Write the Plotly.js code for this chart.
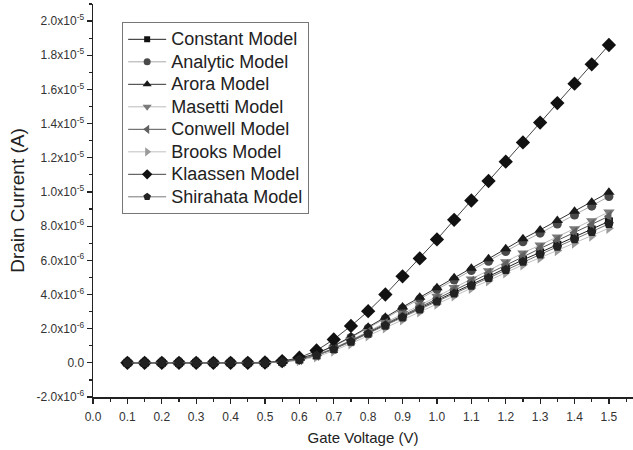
<!DOCTYPE html>
<html>
<head>
<meta charset="utf-8">
<script src="https://cdn.plot.ly/plotly-3.0.1.min.js"></script>
<style>html,body{margin:0;padding:0;background:#fff;}#chart{width:633px;height:450px;}</style>
</head>
<body>
<div id="chart"></div>
<script>
// Gate voltage (V)
const gateVoltage = [0.1,0.15,0.2,0.25,0.3,0.35,0.4,0.45,0.5,0.55,0.6,0.65,0.7,0.75,0.8,0.85,0.9,0.95,1.0,1.05,1.1,1.15,1.2,1.25,1.3,1.35,1.4,1.45,1.5];

// Drain current in units of 1e-6 A
const constantModel  = [0,0,0,0,0,0,0,0,0,0.06,0.20,0.44,0.81,1.26,1.73,2.22,2.71,3.19,3.65,4.13,4.60,5.05,5.54,6.03,6.46,6.91,7.36,7.80,8.28];
const analyticModel  = [0,0,0,0,0,0,0,0,0,0.07,0.24,0.53,0.97,1.48,2.03,2.60,3.18,3.74,4.29,4.85,5.40,5.94,6.51,7.08,7.59,8.12,8.65,9.17,9.73];
const aroraModel     = [0,0,0,0,0,0,0,0,0,0.08,0.25,0.55,1.00,1.52,2.08,2.67,3.26,3.84,4.40,4.98,5.54,6.09,6.68,7.26,7.78,8.33,8.87,9.40,9.98];
const masettiModel   = [0,0,0,0,0,0,0,0,0,0.06,0.20,0.46,0.86,1.33,1.84,2.36,2.89,3.40,3.89,4.41,4.90,5.39,5.91,6.43,6.89,7.37,7.85,8.32,8.83];
const conwellModel   = [0,0,0,0,0,0,0,0,0,0.06,0.20,0.45,0.84,1.30,1.79,2.30,2.80,3.30,3.78,4.28,4.76,5.24,5.74,6.24,6.69,7.16,7.63,8.08,8.58];
const brooksModel    = [0,0,0,0,0,0,0,0,0,0.03,0.14,0.36,0.70,1.12,1.58,2.05,2.52,2.99,3.45,3.92,4.37,4.81,5.28,5.74,6.15,6.58,7.01,7.43,7.88];
const klaassenModel  = [0,0,0,0,0,0,0,0,0.02,0.10,0.30,0.72,1.37,2.16,3.02,4.00,5.06,6.11,7.22,8.37,9.50,10.64,11.77,12.90,14.06,15.20,16.34,17.47,18.60];
const shirahataModel = [0,0,0,0,0,0,0,0,0,0.06,0.19,0.43,0.80,1.24,1.70,2.18,2.66,3.13,3.59,4.06,4.52,4.96,5.44,5.92,6.34,6.79,7.23,7.66,8.13];

const seriesNames = ["Constant Model","Analytic Model","Arora Model","Masetti Model","Conwell Model","Brooks Model","Klaassen Model","Shirahata Model"];
const seriesData = [constantModel, analyticModel, aroraModel, masettiModel, conwellModel, brooksModel, klaassenModel, shirahataModel];

const yTickVals = [-2e-6,0,2e-6,4e-6,6e-6,8e-6,1e-5,1.2e-5,1.4e-5,1.6e-5,1.8e-5,2e-5];
const yTickText = ["-2.0x10<sup>-6</sup>","0.0","2.0x10<sup>-6</sup>","4.0x10<sup>-6</sup>","6.0x10<sup>-6</sup>","8.0x10<sup>-6</sup>","1.0x10<sup>-5</sup>","1.2x10<sup>-5</sup>","1.4x10<sup>-5</sup>","1.6x10<sup>-5</sup>","1.8x10<sup>-5</sup>","2.0x10<sup>-5</sup>"];
const xTickVals = [0,0.1,0.2,0.3,0.4,0.5,0.6,0.7,0.8,0.9,1.0,1.1,1.2,1.3,1.4,1.5];
const xTickText = ["0.0","0.1","0.2","0.3","0.4","0.5","0.6","0.7","0.8","0.9","1.0","1.1","1.2","1.3","1.4","1.5"];

const styles = [
  {sym:"square", mc:"#111111", lc:"#222222", size:8, ls:6},
  {sym:"circle", mc:"#4a4a4a", lc:"#aaaaaa", size:9, ls:7},
  {sym:"triangle-up", mc:"#1a1a1a", lc:"#333333", size:10, ls:8},
  {sym:"triangle-down", mc:"#7a7a7a", lc:"#bbbbbb", size:10, ls:8},
  {sym:"triangle-left", mc:"#606060", lc:"#555555", size:10, ls:8},
  {sym:"triangle-right", mc:"#9a9a9a", lc:"#c0c0c0", size:10, ls:8},
  {sym:"diamond", mc:"#111111", lc:"#444444", size:11, ls:8},
  {sym:"pentagon", mc:"#222222", lc:"#777777", size:10, ls:8}
];

const dataTraces = seriesNames.map((name,i)=>({
  x: gateVoltage,
  y: seriesData[i].map(v=>v*1e-6),
  name: name,
  type: "scatter",
  mode: "lines+markers",
  showlegend: false,
  line: {color: styles[i].lc, width: 1},
  marker: {symbol: styles[i].sym, color: styles[i].mc, size: styles[i].size, line:{width:0}}
}));

// legend-only entries (smaller symbols as in the reference legend)
const legendTraces = seriesNames.map((name,i)=>({
  x: [null], y: [null],
  name: "<span style='font-size:18px'>" + name + "</span>",
  type: "scatter",
  mode: "lines+markers",
  showlegend: true,
  hoverinfo: "skip",
  line: {color: styles[i].lc, width: 1},
  marker: {symbol: styles[i].sym, color: styles[i].mc, size: styles[i].ls, line:{width:0}}
}));

const FONT = "Arial, 'Liberation Sans', sans-serif";

const layout = {
  width: 633, height: 450,
  margin: {l: 93, r: 0, t: 4, b: 53},
  paper_bgcolor: "#fff", plot_bgcolor: "#fff",
  font: {family: FONT, color: "#222"},
  showlegend: true,
  legend: {
    x: 0.054, y: 0.954, xanchor: "left", yanchor: "top",
    bordercolor: "#777", borderwidth: 1, bgcolor: "#fff",
    font: {family: FONT, size: 15, color: "#222"},
    itemwidth: 38, tracegroupgap: 0, traceorder: "normal"
  },
  xaxis: {
    range: [0, 1.57],
    tickvals: xTickVals, ticktext: xTickText,
    ticks: "outside", ticklen: 5, tickwidth: 1.2, tickcolor: "#222",
    minor: {dtick: 0.05, tick0: 0, ticks: "outside", ticklen: 3, tickwidth: 1.2, tickcolor: "#222", showgrid:false},
    showline: true, linecolor: "#222", linewidth: 1.5,
    showgrid: false, zeroline: false,
    ticklabelstandoff: 3,
    tickfont: {family: FONT, size: 12, color: "#333"},
    title: {text: "Gate Voltage (V)", font: {family: FONT, size: 15, color: "#222"}, standoff: 9}
  },
  yaxis: {
    range: [-2e-6, 2.1e-5],
    tickvals: yTickVals, ticktext: yTickText,
    ticks: "outside", ticklen: 5, tickwidth: 1.2, tickcolor: "#222",
    minor: {dtick: 1e-6, tick0: 0, ticks: "outside", ticklen: 3, tickwidth: 1.2, tickcolor: "#222", showgrid:false},
    showline: true, linecolor: "#222", linewidth: 1.5,
    showgrid: false, zeroline: false,
    tickfont: {family: FONT, size: 12, color: "#333"},
    title: {text: "Drain Current (A)", font: {family: FONT, size: 19, color: "#222"}, standoff: 7}
  }
};

Plotly.newPlot("chart", dataTraces.concat(legendTraces), layout, {displayModeBar: false, staticPlot: true});
</script>
</body>
</html>
